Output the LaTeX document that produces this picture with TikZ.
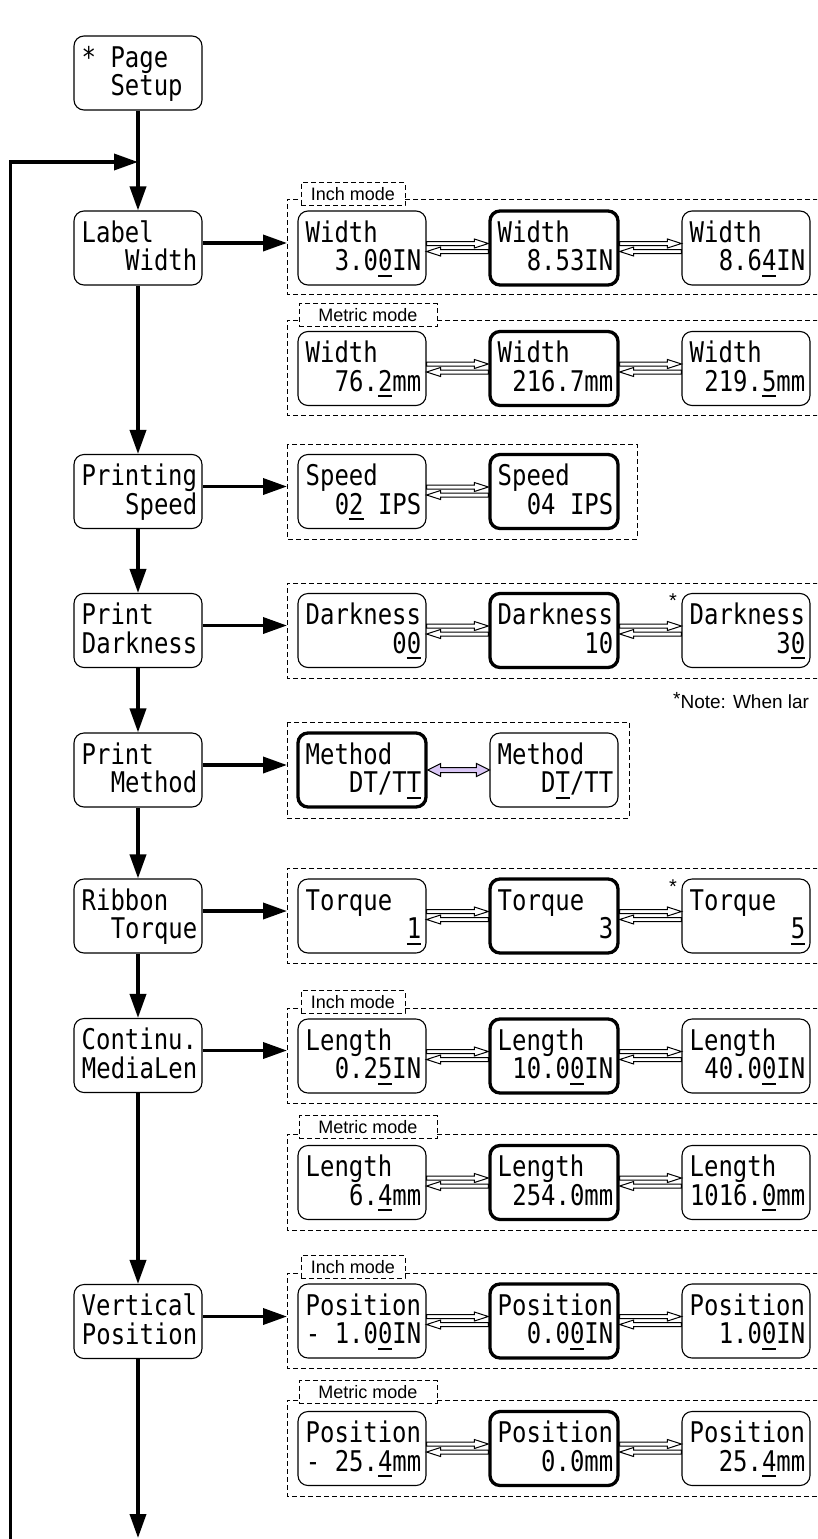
\documentclass[tikz,border=0pt]{standalone}
\usepackage{fontspec}
\usetikzlibrary{arrows.meta,calc}
\newfontfamily\lcdfont[FakeStretch=0.84]{DejaVu Sans Mono}
\newfontfamily\helvfont{Liberation Sans}
\definecolor{lav}{HTML}{D9C6F5}
\newcommand{\uln}[1]{\setbox0=\hbox{#1}\rlap{\rule[-6pt]{\wd0}{2pt}}\box0\relax}
\tikzset{
  box/.style={draw, rounded corners=10pt, minimum width=128pt, minimum height=74pt, line width=1.1pt, fill=white, inner sep=0pt},
  hi/.style={line width=3.3pt},
  txt/.style={font=\lcdfont\fontsize{28.5}{28}\selectfont, inner sep=0pt},
  bigarr/.style={line width=3.6pt, -{Triangle[length=24pt,width=16pt]}},
  grp/.style={dash pattern=on 5pt off 3pt, line width=1pt},
  modelbl/.style={draw, dash pattern=on 5pt off 3pt, line width=1pt, fill=white, minimum height=23pt, inner sep=0pt, font=\helvfont\fontsize{18}{20}\selectfont, text height=13pt, text depth=0pt},
  hollow/.style={draw, line width=1pt, fill=white, line join=miter},
  starlbl/.style={font=\helvfont\fontsize{20}{22}\selectfont, inner sep=0pt},
  notelbl/.style={font=\helvfont\fontsize{19}{22}\selectfont, inner sep=0pt},
}
\newcommand{\lcdbox}[6][]{%
  \node[box,#1] (#2) at (#3,#4) {};
  \node[txt, anchor=base west] (#2a) at ($(#2.center)+(-56.5,-6)$) {#5};
  \node[txt, anchor=base east] (#2b) at ($(#2.center)+(59.5,22.5)$) {#6};
}
\newcommand{\darr}[2]{%
  \draw[hollow] let \p1=(#1.east), \p2=(#2.west) in
   (\x1,\y1+6.5pt) -- (\x2-14pt,\y1+6.5pt) -- (\x2-14pt,\y1+9pt) -- (\x2,\y1+4.5pt)
   -- (\x2-14pt,\y1) -- (\x2-14pt,\y1+2.5pt) -- (\x1,\y1+2.5pt) -- cycle;
  \draw[hollow] let \p1=(#1.east), \p2=(#2.west) in
   (\x2,\y1-1.5pt) -- (\x1+14pt,\y1-1.5pt) -- (\x1+14pt,\y1+1pt) -- (\x1,\y1-3.5pt)
   -- (\x1+14pt,\y1-8pt) -- (\x1+14pt,\y1-5.5pt) -- (\x2,\y1-5.5pt) -- cycle;
}
\newcommand{\opengrp}[2]{\draw[grp] (818,#1) -- (287,#1) -- (287,#2) -- (818,#2);}
\begin{document}
\begin{tikzpicture}[x=1pt,y=-1pt]
\useasboundingbox (0,0) rectangle (817,1539);
\clip (0,0) rectangle (817,1539);

% ---------- dashed groups ----------
\opengrp{199}{294}
\opengrp{320}{415}
\draw[grp] (287,444) rectangle (637,539);
\opengrp{583}{678}
\draw[grp] (287,722) rectangle (629,818);
\opengrp{868}{963}
\opengrp{1008}{1103}
\opengrp{1134}{1230}
\opengrp{1273}{1368}
\opengrp{1400}{1496}
\node[modelbl, minimum width=104pt] (lbl1) at (353,194) {Inch mode};
\node[modelbl, minimum width=138pt] (lbl2) at (368,315) {Metric mode};
\node[modelbl, minimum width=104pt] (lbl3) at (353,1002) {Inch mode};
\node[modelbl, minimum width=138pt] (lbl4) at (368,1127) {Metric mode};
\node[modelbl, minimum width=104pt] (lbl5) at (353,1267) {Inch mode};
\node[modelbl, minimum width=138pt] (lbl6) at (368,1392) {Metric mode};

% ---------- left column ----------
\node[box] (ps) at (138,73) {};
\node[txt, anchor=base west] (psa) at ($(ps.center)+(-56.5,-6)$) {*\ Page};
\node[txt, anchor=base west] (psb) at ($(ps.center)+(-56.5,22.5)$) {\hphantom{*\ }Setup};
\lcdbox{lw}{138}{248}{Label}{Width}
\lcdbox{sp}{138}{491.5}{Printing}{Speed}
\lcdbox{pd}{138}{630.5}{Print}{Darkness}
\lcdbox{pmt}{138}{770}{Print}{Method}
\lcdbox{rt}{138}{916}{Ribbon}{Torque}
\lcdbox{cm}{138}{1055.5}{Continu.}{MediaLen}
\lcdbox{vp}{138}{1321.5}{Vertical}{Position}

% ---------- right boxes ----------
\lcdbox{wa}{362}{248}{Width}{3.0\uln{0}IN}
\lcdbox[hi]{wb}{554}{248}{Width}{8.53IN}
\lcdbox{wc}{746}{248}{Width}{8.6\uln{4}IN}

\lcdbox{ma}{362}{368.5}{Width}{76.\uln{2}mm}
\lcdbox[hi]{mb}{554}{368.5}{Width}{216.7mm}
\lcdbox{mc}{746}{368.5}{Width}{219.\uln{5}mm}

\lcdbox{sa}{362}{491.5}{Speed}{0\uln{2} IPS}
\lcdbox[hi]{sb}{554}{491.5}{Speed}{04 IPS}

\lcdbox{da}{362}{630.5}{Darkness}{0\uln{0}}
\lcdbox[hi]{db}{554}{630.5}{Darkness}{10}
\lcdbox{dc}{746}{630.5}{Darkness}{3\uln{0}}

\lcdbox[hi]{ea}{362}{770}{Method}{DT/T\uln{T}}
\lcdbox{eb}{554}{770}{Method}{D\uln{T}/TT}

\lcdbox{ta}{362}{916}{Torque}{\uln{1}}
\lcdbox[hi]{tb}{554}{916}{Torque}{3}
\lcdbox{tc}{746}{916}{Torque}{\uln{5}}

\lcdbox{la}{362}{1056}{Length}{0.2\uln{5}IN}
\lcdbox[hi]{lb}{554}{1056}{Length}{10.0\uln{0}IN}
\lcdbox{lc}{746}{1056}{Length}{40.0\uln{0}IN}

\lcdbox{ka}{362}{1182.5}{Length}{6.\uln{4}mm}
\lcdbox[hi]{kb}{554}{1182.5}{Length}{254.0mm}
\lcdbox{kc}{746}{1182.5}{Length}{1016.\uln{0}mm}

\lcdbox{qa}{362}{1321}{Position}{-\ 1.0\uln{0}IN}
\lcdbox[hi]{qb}{554}{1321}{Position}{0.0\uln{0}IN}
\lcdbox{qc}{746}{1321}{Position}{1.0\uln{0}IN}

\lcdbox{ra}{362}{1448.5}{Position}{-\ 25.\uln{4}mm}
\lcdbox[hi]{rb}{554}{1448.5}{Position}{0.0mm}
\lcdbox{rc}{746}{1448.5}{Position}{25.\uln{4}mm}

% ---------- double arrows ----------
\darr{wa}{wb}\darr{wb}{wc}
\darr{ma}{mb}\darr{mb}{mc}
\darr{sa}{sb}
\darr{da}{db}\darr{db}{dc}
\darr{ta}{tb}\darr{tb}{tc}
\darr{la}{lb}\darr{lb}{lc}
\darr{ka}{kb}\darr{kb}{kc}
\darr{qa}{qb}\darr{qb}{qc}
\darr{ra}{rb}\darr{rb}{rc}
\draw[hollow, fill=lav] let \p1=(ea.east), \p2=(eb.west) in
  (\x1,\y1) -- (\x1+13pt,\y1+6.5pt) -- (\x1+13pt,\y1+2.5pt) -- (\x2-13pt,\y1+2.5pt)
  -- (\x2-13pt,\y1+6.5pt) -- (\x2,\y1) -- (\x2-13pt,\y1-6.5pt) -- (\x2-13pt,\y1-2.5pt)
  -- (\x1+13pt,\y1-2.5pt) -- (\x1+13pt,\y1-6.5pt) -- cycle;

% ---------- stars and note ----------
\node[starlbl] (st1) at (673,601) {*};
\node[starlbl] (st2) at (673,887) {*};
\node[notelbl, anchor=base west] (note) at (673,708) {\raisebox{3pt}{*}Note: When lar};

% ---------- main flow ----------
\coordinate (loopB) at (10.5,1539);
\coordinate (loopT) at (10.5,162);
\coordinate (loopJ) at (138,162);
\coordinate (endB) at (138,1538);
\draw[bigarr] (ps.south) -- (lw.north);
\draw[bigarr] (loopB) -- (loopT) -- (loopJ);
\draw[bigarr] (lw.south) -- (sp.north);
\draw[bigarr] (sp.south) -- (pd.north);
\draw[bigarr] (pd.south) -- (pmt.north);
\draw[bigarr] (pmt.south) -- (rt.north);
\draw[bigarr] (rt.south) -- (cm.north);
\draw[bigarr] (cm.south) -- (vp.north);
\draw[bigarr] (vp.south) -- (endB);

\coordinate (g1) at (287,243);
\coordinate (g2) at (287,486.5);
\coordinate (g3) at (287,625.5);
\coordinate (g4) at (287,765);
\coordinate (g5) at (287,911);
\coordinate (g6) at (287,1050.5);
\coordinate (g7) at (287,1316.5);
\draw[bigarr] (lw.east |- g1) -- (g1);
\draw[bigarr] (sp.east |- g2) -- (g2);
\draw[bigarr] (pd.east |- g3) -- (g3);
\draw[bigarr] (pmt.east |- g4) -- (g4);
\draw[bigarr] (rt.east |- g5) -- (g5);
\draw[bigarr] (cm.east |- g6) -- (g6);
\draw[bigarr] (vp.east |- g7) -- (g7);
\end{tikzpicture}
\end{document}
